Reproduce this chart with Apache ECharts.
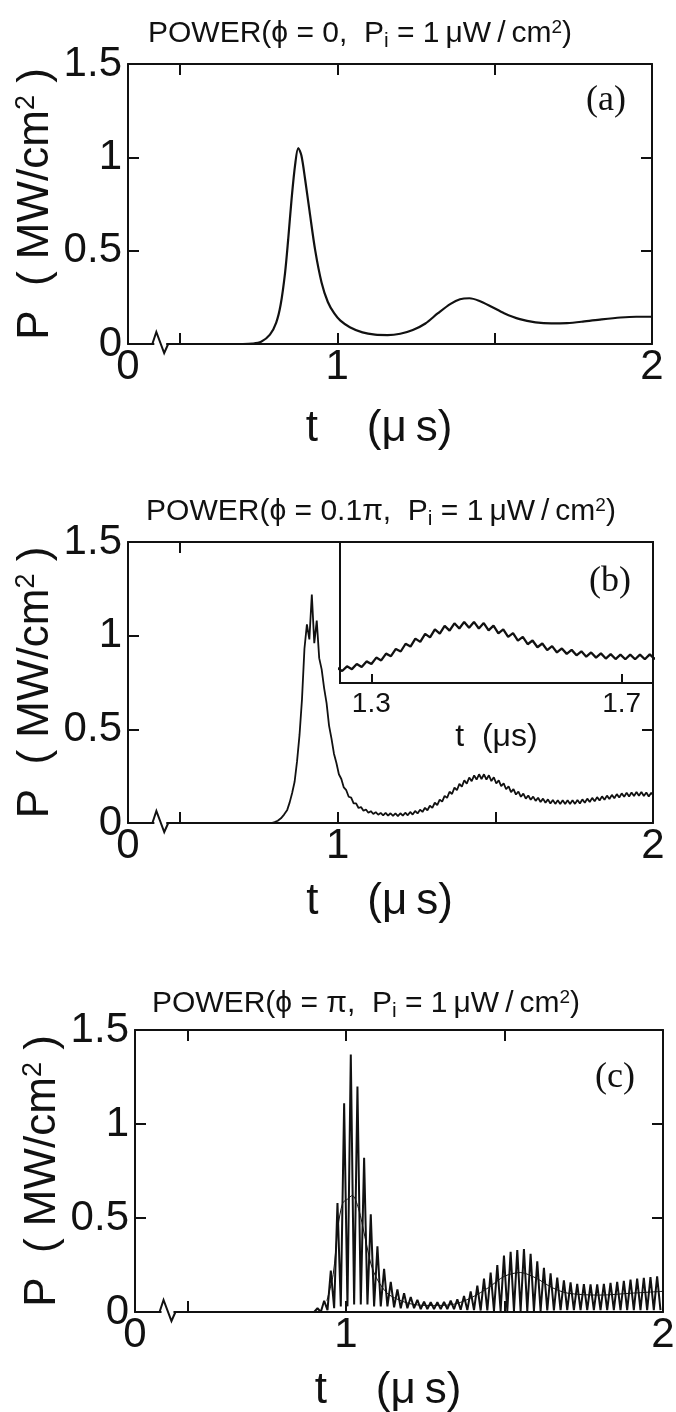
<!DOCTYPE html>
<html>
<head>
<meta charset="utf-8">
<script src="https://cdn.jsdelivr.net/npm/echarts@6/dist/echarts.min.js"></script>
<style>
  html, body { margin: 0; padding: 0; background: #fff; }
  #chart { width: 676px; height: 1412px; }
</style>
</head>
<body>
<div id="chart"></div>
<script>
// ---------- axis values ----------
const X_LABELS = [0, 1, 2];            // labelled times (µs)
const X_TICKS = [0.5, 1, 1.5];         // inner tick marks on the time axis
const Y_LABELS = [0, 0.5, 1, 1.5];     // labelled powers (MW/cm^2)
const Y_TICKS = [0.5, 1];              // inner tick marks on the power axis
const T_BREAK = [0.09, 0.45];          // collapsed stretch of the time axis
const INSET_X_LABELS = [1.3, 1.7];

// ---------- (a) phi = 0 : smooth output power ----------
const A_T = [0, 0.70, 0.73, 0.758, 0.786, 0.806, 0.82, 0.834, 0.844, 0.855, 0.866, 0.876,
  0.886, 0.898, 0.912, 0.93, 0.95, 0.97, 0.99, 1.01, 1.04, 1.08, 1.12, 1.16, 1.2, 1.24,
  1.28, 1.32, 1.36, 1.39, 1.42, 1.45, 1.49, 1.53, 1.58, 1.63, 1.68, 1.73, 1.78, 1.84,
  1.9, 1.95, 2.0];
const A_P = [0, 0, 0.002, 0.012, 0.05, 0.115, 0.21, 0.38, 0.56, 0.78, 0.96, 1.05,
  1.01, 0.88, 0.71, 0.5, 0.33, 0.225, 0.165, 0.125, 0.09, 0.062, 0.05, 0.048, 0.055, 0.075,
  0.11, 0.165, 0.215, 0.24, 0.245, 0.232, 0.2, 0.165, 0.133, 0.116, 0.11, 0.112, 0.12, 0.132,
  0.142, 0.146, 0.146];

// ---------- (b) phi = 0.1 pi : power with a small ripple ----------
const B_LEAD_T = [0, 0.79, 0.80, 0.81, 0.82, 0.83];
const B_LEAD_P = [0, 0, 0.005, 0.012, 0.025, 0.045];
const B_START = 0.84;      // first sample time of the rippled part (µs)
const B_STEP = 0.0078;     // half a ripple period (µs)
const B_P = [
  0.07, 0.11, 0.16, 0.22, 0.33, 0.47, 0.66, 0.93, 1.06, 0.98,
  1.22, 0.96, 1.08, 0.88, 0.82, 0.72, 0.64, 0.52, 0.45, 0.37,
  0.32, 0.26, 0.235, 0.19, 0.175, 0.14, 0.135, 0.105, 0.105, 0.08,
  0.085, 0.065, 0.072, 0.055, 0.063, 0.048, 0.058, 0.044, 0.054, 0.041,
  0.054, 0.039, 0.052, 0.038, 0.051, 0.037, 0.052, 0.039, 0.055, 0.041,
  0.059, 0.045, 0.064, 0.051, 0.071, 0.059, 0.081, 0.068, 0.092, 0.081,
  0.108, 0.096, 0.125, 0.114, 0.145, 0.134, 0.167, 0.155, 0.189, 0.175,
  0.209, 0.194, 0.228, 0.21, 0.243, 0.223, 0.254, 0.232, 0.26, 0.235,
  0.26, 0.232, 0.255, 0.224, 0.244, 0.211, 0.228, 0.196, 0.212, 0.18,
  0.196, 0.165, 0.181, 0.152, 0.168, 0.14, 0.157, 0.13, 0.147, 0.124,
  0.141, 0.118, 0.135, 0.112, 0.13, 0.108, 0.126, 0.104, 0.123, 0.102,
  0.121, 0.101, 0.121, 0.101, 0.121, 0.101, 0.122, 0.102, 0.123, 0.104,
  0.126, 0.108, 0.13, 0.112, 0.134, 0.116, 0.138, 0.12, 0.142, 0.124,
  0.146, 0.128, 0.15, 0.132, 0.154, 0.136, 0.158, 0.14, 0.161, 0.142,
  0.163, 0.144, 0.165, 0.145, 0.165, 0.144, 0.163, 0.142, 0.161];
const B_END = [2.0, 0.15];

// ---------- (c) phi = pi : strongly modulated power ----------
const C_LEAD_T = [0, 0.89];
const C_LEAD_P = [0, 0];
const C_START = 0.9;       // first trough (µs)
const C_STEP = 0.0105;     // half a modulation period (µs)
const C_PEAK = [0.02, 0.06, 0.22, 0.58, 1.11, 1.37, 1.2, 0.82, 0.52, 0.35,
  0.23, 0.16, 0.12, 0.1, 0.08, 0.065, 0.055, 0.052, 0.052, 0.053,
  0.06, 0.068, 0.085, 0.11, 0.14, 0.177, 0.21, 0.25, 0.3, 0.32,
  0.33, 0.335, 0.31, 0.27, 0.235, 0.205, 0.183, 0.168, 0.157, 0.15,
  0.148, 0.147, 0.147, 0.149, 0.155, 0.16, 0.166, 0.172, 0.177, 0.182,
  0.186, 0.19];
const C_TROUGH = [0, 0, 0.01, 0.02, 0.03, 0.03, 0.04, 0.04, 0.04, 0.03,
  0.03, 0.03, 0.025, 0.02, 0.02, 0.02, 0.015, 0.015, 0.015, 0.015,
  0.015, 0.015, 0.012, 0.01, 0.01, 0.008, 0.008, 0.006, 0.006, 0.005,
  0.005, 0.005, 0.005, 0.006, 0.006, 0.008, 0.008, 0.01, 0.01, 0.01,
  0.01, 0.01, 0.01, 0.01, 0.01, 0.01, 0.01, 0.01, 0.01, 0.01,
  0.01, 0.01, 0.01];
// cycle-averaged level drawn through the modulation
const C_MEAN_T = [0.94, 0.96, 0.975, 0.99, 1.005, 1.02, 1.04, 1.06, 1.08, 1.1, 1.13, 1.16,
  1.2, 1.25, 1.3, 1.35, 1.4, 1.45, 1.5, 1.55, 1.6, 1.65, 1.7, 1.8, 1.9, 2.0];
const C_MEAN_P = [0.06, 0.2, 0.45, 0.58, 0.6, 0.62, 0.55, 0.4, 0.25, 0.17, 0.1, 0.07,
  0.045, 0.035, 0.035, 0.045, 0.08, 0.13, 0.19, 0.21, 0.18, 0.13, 0.1, 0.09, 0.1, 0.11];

// ---------- build [t, P] pairs ----------
function zip(ts, ps) { return ts.map((t, i) => [t, ps[i]]); }
const seriesA = zip(A_T, A_P);
const seriesB = zip(B_LEAD_T, B_LEAD_P)
  .concat(B_P.map((p, k) => [+(B_START + k * B_STEP).toFixed(4), p]))
  .concat([B_END]);
const cSamples = [];
for (let j = 0; j < C_TROUGH.length; j++) {
  cSamples.push(C_TROUGH[j]);
  if (j < C_PEAK.length) cSamples.push(C_PEAK[j]);
}
const seriesC = zip(C_LEAD_T, C_LEAD_P)
  .concat(cSamples.map((p, k) => [+(C_START + k * C_STEP).toFixed(4), p]));
const seriesCMean = zip(C_MEAN_T, C_MEAN_P);

// ---------- styling ----------
const INK = '#111';
const SANS = '"Liberation Sans", Arial, sans-serif';
const SERIF = '"Liberation Serif", "Times New Roman", serif';
const LINE = { color: INK, width: 2 };
const THIN = '\u2009';

const PANELS = [
  { left: 128, top: 64, width: 524, height: 280, nameGapX: 63 },
  { left: 128, top: 542, width: 525, height: 281, nameGapX: 57 },
  { left: 135, top: 1030, width: 528, height: 282, nameGapX: 57 }
];
const INSET = { left: 340, top: 542, width: 313, height: 141 };

const supRich = {
  sup: { fontSize: 27, fontFamily: SANS, color: INK, padding: [0, 0, 18, 0] }
};

function timeAxis(gi, position, withLabels, ticks, nameGap) {
  return {
    type: 'value', gridIndex: gi, position, min: 0, max: 2,
    breaks: [{ start: T_BREAK[0], end: T_BREAK[1], gap: '1.5%' }],
    breakArea: { show: false },
    axisLine: { show: true, onZero: false, lineStyle: LINE },
    axisTick: { show: true, inside: true, length: 11, customValues: ticks, lineStyle: LINE },
    axisLabel: {
      show: withLabels, customValues: X_LABELS, formatter: v => String(v),
      color: INK, fontSize: 42, fontFamily: SANS, margin: 2
    },
    splitLine: { show: false },
    name: withLabels ? 't    (\u03bc' + THIN + 's)' : '',
    nameLocation: 'middle', nameGap, nameMoveOverlap: false,
    nameTextStyle: { color: INK, fontSize: 44, fontFamily: SANS, padding: [0, 22, 0, 0] }
  };
}

function powerAxis(gi, position, withLabels, ticks) {
  return {
    type: 'value', gridIndex: gi, position, min: 0, max: 1.5, interval: 0.5,
    axisLine: { show: true, onZero: false, lineStyle: LINE },
    axisTick: { show: true, inside: true, length: 11, customValues: ticks, lineStyle: LINE },
    axisLabel: {
      show: withLabels, customValues: Y_LABELS, formatter: v => String(v),
      color: INK, fontSize: 42, fontFamily: SANS, margin: 6
    },
    splitLine: { show: false },
    name: withLabels ? '{t|P  ( MW/cm}{sup|2}{t| )}' : '',
    nameLocation: 'middle', nameRotate: 90, nameGap: 70, nameMoveOverlap: false,
    nameTextStyle: {
      color: INK, fontSize: 44, fontFamily: SANS,
      rich: Object.assign({ t: { fontSize: 44, fontFamily: SANS, color: INK } }, supRich)
    }
  };
}

const grids = PANELS.map(p => ({
  left: p.left, top: p.top, width: p.width, height: p.height,
  outerBoundsMode: 'none', containLabel: false
}));
grids.push({
  left: INSET.left, top: INSET.top, width: INSET.width, height: INSET.height,
  show: true, backgroundColor: '#fff', borderColor: INK, borderWidth: 2,
  outerBoundsMode: 'none', containLabel: false, z: 5
});

const xAxes = [
  timeAxis(0, 'bottom', true, X_TICKS, PANELS[0].nameGapX),
  timeAxis(0, 'top', false, X_TICKS, 0),
  timeAxis(1, 'bottom', true, X_TICKS, PANELS[1].nameGapX),
  timeAxis(1, 'top', false, [0.5], 0),
  {
    type: 'value', gridIndex: 3, position: 'bottom', min: 1.25, max: 1.75, z: 6,
    axisLine: { show: false },
    axisTick: { show: true, inside: true, length: 9, customValues: INSET_X_LABELS, lineStyle: LINE },
    axisLabel: {
      show: true, customValues: INSET_X_LABELS, formatter: v => v.toFixed(1),
      color: INK, fontSize: 28, fontFamily: SANS, margin: 7
    },
    splitLine: { show: false },
    name: 't  (\u03bcs)', nameLocation: 'middle', nameGap: 38, nameMoveOverlap: false,
    nameTextStyle: { color: INK, fontSize: 32, fontFamily: SANS }
  },
  timeAxis(2, 'bottom', true, X_TICKS, PANELS[2].nameGapX),
  timeAxis(2, 'top', false, X_TICKS, 0)
];

const yAxes = [
  powerAxis(0, 'left', true, Y_TICKS),
  powerAxis(0, 'right', false, Y_TICKS),
  powerAxis(1, 'left', true, Y_TICKS),
  powerAxis(1, 'right', false, [0.5]),
  {
    type: 'value', gridIndex: 3, min: 0, max: 0.6,
    axisLine: { show: false }, axisTick: { show: false }, axisLabel: { show: false },
    splitLine: { show: false }
  },
  powerAxis(2, 'left', true, Y_TICKS),
  powerAxis(2, 'right', false, Y_TICKS)
];

function line(data, xi, yi, width, extra) {
  return Object.assign({
    type: 'line', data, xAxisIndex: xi, yAxisIndex: yi, showSymbol: false,
    symbol: 'none', lineStyle: { color: INK, width }, silent: true, animation: false, z: 3
  }, extra || {});
}

const series = [
  line(seriesA, 0, 0, 2.2, { smooth: 0.3 }),
  line(seriesB, 2, 2, 1.8),
  line(seriesB, 4, 4, 2.3, { z: 7 }),
  line(seriesC, 5, 5, 2.0),
  line(seriesCMean, 5, 5, 1.0, { smooth: 0.3 })
];

function titleText(x, y, text) {
  return {
    type: 'text', x, y, silent: true,
    style: {
      text, fill: INK, font: '30px ' + SANS, align: 'center', verticalAlign: 'middle',
      rich: {
        sup: { fontSize: 19, fontFamily: SANS, fill: INK, padding: [0, 0, 13, 0] },
        sub: { fontSize: 21, fontFamily: SANS, fill: INK, padding: [15, 0, 0, 0] }
      }
    }
  };
}
function panelLetter(x, y, text) {
  return {
    type: 'text', x, y, silent: true, z: 10,
    style: { text, fill: INK, font: '36px ' + SERIF, align: 'center', verticalAlign: 'middle' }
  };
}

const chart = echarts.init(document.getElementById('chart'), null, { renderer: 'canvas' });
chart.setOption({
  backgroundColor: '#fff',
  animation: false,
  grid: grids,
  xAxis: xAxes,
  yAxis: yAxes,
  series,
  graphic: [
    titleText(360, 34, 'POWER(\u03d5 = 0,  P{sub|i} = 1' + THIN + '\u03bcW' + THIN + '/' + THIN + 'cm{sup|2})'),
    titleText(381, 512, 'POWER(\u03d5 = 0.1\u03c0,  P{sub|i} = 1' + THIN + '\u03bcW' + THIN + '/' + THIN + 'cm{sup|2})'),
    titleText(366, 1004, 'POWER(\u03d5 = \u03c0,  P{sub|i} = 1' + THIN + '\u03bcW' + THIN + '/' + THIN + 'cm{sup|2})'),
    panelLetter(606, 101, '(a)'),
    panelLetter(610, 582, '(b)'),
    panelLetter(615, 1078, '(c)')
  ]
});

// zig-zag marks where the time axis is broken, placed through the axis scales;
// the top border is closed over the same stretch
function breakMark(xi, yi, id) {
  const xa = chart.convertToPixel({ xAxisIndex: xi }, T_BREAK[0]);
  const xb = chart.convertToPixel({ xAxisIndex: xi }, T_BREAK[1]);
  const y0 = chart.convertToPixel({ yAxisIndex: yi }, 0);
  const yTop = chart.convertToPixel({ yAxisIndex: yi }, 1.5);
  return [
    { id: id + 'mask', type: 'rect', z: 20, silent: true,
      shape: { x: xa - 2, y: y0 - 3, width: xb - xa + 4, height: 6 },
      style: { fill: '#fff' } },
    { id: id + 'zig', type: 'polyline', z: 21, silent: true,
      shape: { points: [[xa - 4, y0], [xa, y0 - 12], [xb, y0 + 9], [xb + 4, y0]] },
      style: { stroke: INK, lineWidth: 2, fill: null } },
    { id: id + 'top', type: 'line', z: 21, silent: true,
      shape: { x1: xa - 3, y1: yTop, x2: xb + 3, y2: yTop },
      style: { stroke: INK, lineWidth: 2 } }
  ];
}
chart.setOption({
  graphic: [].concat(breakMark(0, 0, 'a'), breakMark(2, 2, 'b'), breakMark(5, 5, 'c'))
});
</script>
</body>
</html>
